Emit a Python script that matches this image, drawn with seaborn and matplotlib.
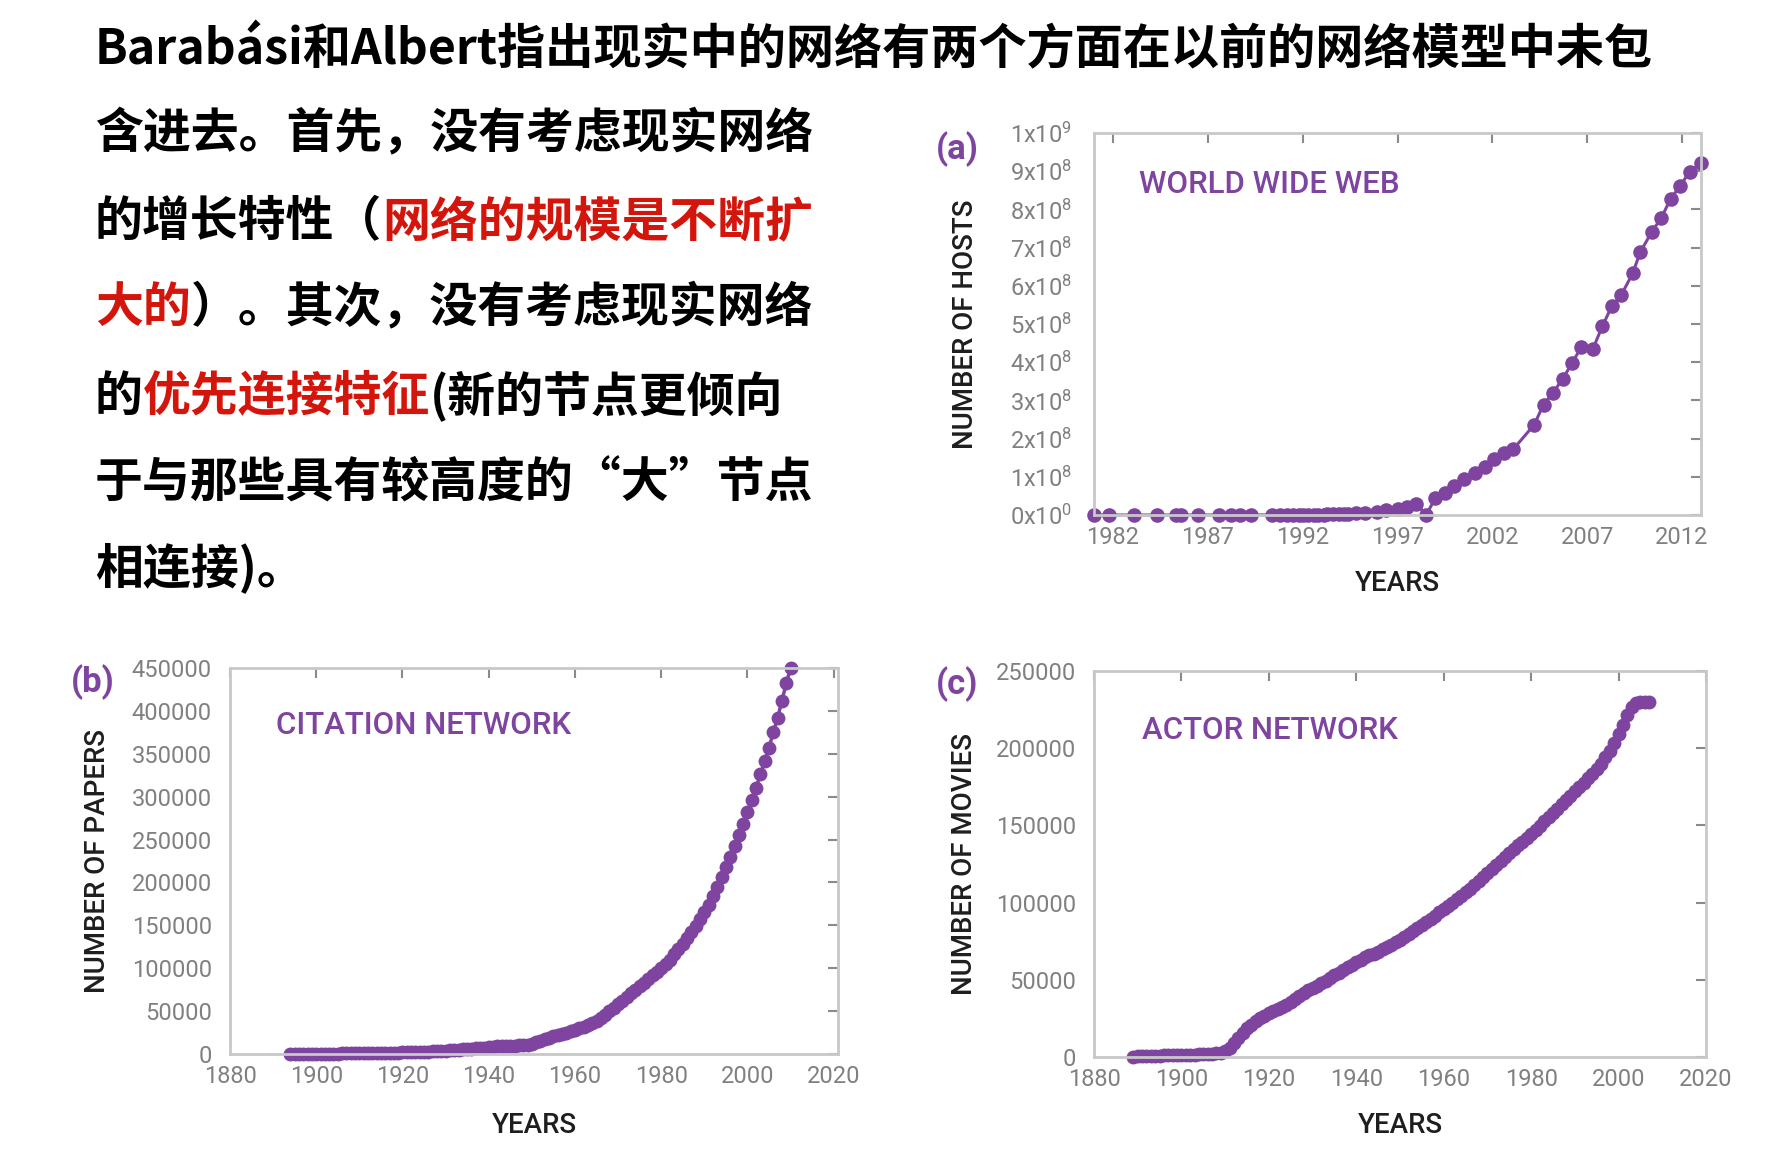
import matplotlib
matplotlib.use("Agg")
import matplotlib.pyplot as plt
import seaborn as sns

# ---------------- data ----------------
www_years = [1981.0, 1981.8, 1983.1, 1984.3, 1985.3, 1985.6, 1986.5, 1987.6, 1988.2, 1988.7,
             1989.3, 1990.4, 1990.8, 1991.2, 1991.5, 1991.8, 1992.0, 1992.3, 1992.6, 1992.8,
             1993.1, 1993.3, 1993.6, 1993.9, 1994.2, 1994.4, 1994.8, 1995.3, 1995.9, 1996.4,
             1997.0, 1997.5, 1998.0, 1998.5, 1999.0, 1999.5, 2000.0, 2000.5, 2001.1, 2001.6,
             2002.1, 2002.6, 2003.1, 2004.2, 2004.7, 2005.2, 2005.7, 2006.2, 2006.7, 2007.3,
             2007.8, 2008.3, 2008.8, 2009.4, 2009.8, 2010.4, 2010.9, 2011.4, 2011.9, 2012.4,
             2013.0]
www_hosts_1e8 = [0.0, 0.0, 0.0, 0.0, 0.0, 0.0, 0.0, 0.0, 0.0, 0.001,
                 0.001, 0.003, 0.004, 0.005, 0.006, 0.007, 0.008, 0.009, 0.010, 0.011,
                 0.013, 0.015, 0.018, 0.021, 0.025, 0.032, 0.040, 0.05, 0.08, 0.12,
                 0.16, 0.20, 0.30, 0.0, 0.44, 0.57, 0.75, 0.94, 1.10, 1.26,
                 1.47, 1.63, 1.72, 2.36, 2.89, 3.20, 3.56, 3.97, 4.41, 4.35,
                 4.94, 5.47, 5.76, 6.33, 6.88, 7.41, 7.77, 8.28, 8.61, 8.99,
                 9.21]

cit_years = list(range(1894, 2011))
cit_papers = [0, 50, 100, 150, 200, 250, 300, 350, 400, 450,            # 1894-1903
              500, 550, 600, 650, 700, 750, 800, 900, 1000, 1100,     # 1904-1913
              1200, 1300, 1400, 1500, 1600, 1700, 1800, 1900, 2000, 2200,  # 1914-1923
              2400, 2600, 2800, 3000, 3300, 3600, 3900, 4200, 4600, 5000,  # 1924-1933
              5400, 5800, 6200, 6600, 7000, 7500, 8000, 8600, 9000, 9300,  # 1934-1943
              9500, 9600, 9800, 10000, 10500, 11000, 12000, 13500, 15000, 17000,  # 1944-1953
              19000, 20500, 22000, 23500, 25000, 26500, 28000, 30000, 32000, 34000,  # 1954-1963
              36000, 39000, 42000, 46000, 50000, 54000, 58000, 62000, 66000, 71000,  # 1964-1973
              75000, 79000, 83000, 87000, 92000, 96000, 100000, 105000, 110000, 116000,  # 1974-1983
              122000, 128000, 135000, 142000, 149000, 157000, 165000, 174000, 184000, 195000,  # 1984-1993
              206000, 218000, 230000, 243000, 255000, 268000, 282000, 296000, 310000, 326000,  # 1994-2003
              341000, 357000, 375000, 392000, 412000, 432000, 450000]  # 2004-2010

act_years = list(range(1889, 2008))
act_movies = [300, 400, 500, 600, 700, 800, 900, 1000, 1100, 1200,      # 1889-1898
              1250, 1300, 1400, 1500, 1600, 1700, 1800, 1900, 2000, 2300,  # 1899-1908
              2800, 3800, 6000, 9000, 12500, 15500, 18500, 21000, 23000, 25000,  # 1909-1918
              26700, 28300, 29700, 31000, 32500, 34000, 35800, 37700, 39600, 41500,  # 1919-1928
              43200, 44800, 46300, 47800, 49300, 51000, 52800, 54600, 56400, 58100,  # 1929-1938
              59800, 61500, 63000, 64500, 65800, 67000, 68300, 69700, 71200, 72800,  # 1939-1948
              74400, 76100, 77900, 79800, 81700, 83600, 85600, 87600, 89600, 91600,  # 1949-1958
              93600, 95700, 97800, 99900, 102100, 104300, 106600, 109000, 111500, 114000,  # 1959-1968
              116500, 119000, 121600, 124200, 126800, 129400, 132000, 134500, 137000, 139500,  # 1969-1978
              142000, 144500, 147200, 149900, 152600, 155300, 158000, 160800, 163600, 166400,  # 1979-1988
              169200, 172000, 174800, 177600, 180400, 183300, 186500, 190000, 194000, 198500,  # 1989-1998
              203500, 209000, 215000, 221500, 227000, 229500, 230000, 230000, 230000]  # 1999-2007

www_yticks = [0, 1, 2, 3, 4, 5, 6, 7, 8, 9, 10]
www_yticklabels = ["0x10$^{0}$"] + [f"{i}x10$^{{8}}$" for i in range(1, 10)] + ["1x10$^{9}$"]
www_xticks = [1982, 1987, 1992, 1997, 2002, 2007, 2012]
cit_yticks = [0, 50000, 100000, 150000, 200000, 250000, 300000, 350000, 400000, 450000]
act_yticks = [0, 50000, 100000, 150000, 200000, 250000]
century_xticks = [1880, 1900, 1920, 1940, 1960, 1980, 2000, 2020]

title_line = "Barabási和Albert指出现实中的网络有两个方面在以前的网络模型中未包"
body_lines = [
    [("含进去。首先，没有考虑现实网络", "k")],
    [("的增长特性（", "k"), ("网络的规模是不断扩", "r")],
    [("大的", "r"), ("）。其次，没有考虑现实网络", "k")],
    [("的", "k"), ("优先连接特征", "r"), ("(新的节点更倾向", "k")],
    [("于与那些具有较高度的“大”节点", "k")],
    [("相连接)。", "k")],
]

# ---------------- style ----------------
sns.set_theme(style="white")
CJK = ["Noto Sans CJK SC", "DejaVu Sans"]
LAT = ["Roboto", "DejaVu Sans"]
plt.rcParams["font.family"] = LAT
plt.rcParams["mathtext.default"] = "regular"

PURPLE = "#7e44a0"
RED = "#d4150c"
GRAY = "#808080"
SPINE = "#c8c8c8"
DARK = "#1e1e1e"
W, H = 1782, 1169

fig = plt.figure(figsize=(W / 100, H / 100), dpi=100)
fig.patch.set_facecolor("white")


def px_axes(left, top, right, bottom):
    return fig.add_axes([left / W, 1 - bottom / H, (right - left) / W, (bottom - top) / H])


def style_axes(ax, ypad):
    for s in ax.spines.values():
        s.set_color(SPINE)
        s.set_linewidth(2)
    ax.tick_params(direction="in", top=True, right=True, length=7, width=1.5,
                   color="#8a8a8a", labelsize=17, labelcolor=GRAY)
    ax.tick_params(axis="x", pad=8)
    ax.tick_params(axis="y", pad=ypad)
    ax.set_facecolor("white")


LABEL_KW = dict(fontsize=20, color=DARK, fontweight="medium")
INNER_KW = dict(fontsize=22.5, color=PURPLE, fontweight="medium", va="center", ha="left")

# ---- (a) WWW ----
axa = px_axes(1094, 133, 1701, 515)
sns.lineplot(x=www_years, y=www_hosts_1e8, ax=axa, color=PURPLE, marker="o",
             markersize=10.5, markeredgewidth=0, linewidth=2.2, estimator=None, clip_on=False)
axa.set_xlim(1981, 2013)
axa.set_ylim(0, 10)
axa.set_yticks(www_yticks)
axa.set_yticklabels(www_yticklabels)
axa.set_xticks(www_xticks)
style_axes(axa, 16)
axa.set_xlabel("YEARS", **LABEL_KW)
axa.set_ylabel("NUMBER OF HOSTS", **LABEL_KW)
axa.yaxis.set_label_coords(-0.19, 0.5)
axa.xaxis.set_label_coords(0.5, -0.145)
axa.text(0.074, 0.866, "WORLD WIDE WEB", transform=axa.transAxes, **INNER_KW)

# ---- (b) citation ----
axb = px_axes(230, 668, 838, 1054)
sns.lineplot(x=cit_years, y=cit_papers, ax=axb, color=PURPLE, marker="o",
             markersize=10, markeredgewidth=0, linewidth=2.5, estimator=None, clip_on=False)
axb.set_xlim(1880, 2021)
axb.set_ylim(0, 450000)
axb.set_yticks(cit_yticks)
axb.set_yticklabels([str(v) for v in cit_yticks])
axb.set_xticks(century_xticks)
style_axes(axb, 13)
axb.set_xlabel("YEARS", **LABEL_KW)
axb.set_ylabel("NUMBER OF PAPERS", **LABEL_KW)
axb.yaxis.set_label_coords(-0.195, 0.5)
axb.xaxis.set_label_coords(0.5, -0.15)
axb.text(0.076, 0.852, "CITATION NETWORK", transform=axb.transAxes, **INNER_KW)

# ---- (c) actor ----
axc = px_axes(1094, 671, 1706, 1057)
sns.lineplot(x=act_years, y=act_movies, ax=axc, color=PURPLE, marker="o",
             markersize=10, markeredgewidth=0, linewidth=2.5, estimator=None, clip_on=False)
axc.set_xlim(1880, 2020)
axc.set_ylim(0, 250000)
axc.set_yticks(act_yticks)
axc.set_yticklabels([str(v) for v in act_yticks])
axc.set_xticks(century_xticks)
style_axes(axc, 13)
axc.set_xlabel("YEARS", **LABEL_KW)
axc.set_ylabel("NUMBER OF MOVIES", **LABEL_KW)
axc.yaxis.set_label_coords(-0.19, 0.5)
axc.xaxis.set_label_coords(0.5, -0.142)
axc.text(0.078, 0.845, "ACTOR NETWORK", transform=axc.transAxes, **INNER_KW)

# panel letters
for lab, (x, y) in {"(a)": (957, 149), "(b)": (93, 682), "(c)": (957, 684)}.items():
    fig.text(x / W, 1 - y / H, lab, color=PURPLE, fontsize=25, fontweight="bold",
             ha="center", va="center", family=LAT)

# ---------------- text block ----------------
renderer = fig.canvas.get_renderer()
fig.text(95 / W, 1 - 50 / H, title_line, fontsize=34.7, fontweight="bold", color="black",
         family=CJK, ha="left", va="center")

line_y = [134, 222, 307, 396, 483, 568]
for segs, ly in zip(body_lines, line_y):
    x = 95
    for s, c in segs:
        t = fig.text(x / W, 1 - ly / H, s, fontsize=34.5, fontweight="bold",
                     color=(RED if c == "r" else "black"), family=CJK, ha="left", va="center")
        bb = t.get_window_extent(renderer=renderer)
        x += bb.width

fig.savefig("out.png", dpi=100, facecolor="white")
